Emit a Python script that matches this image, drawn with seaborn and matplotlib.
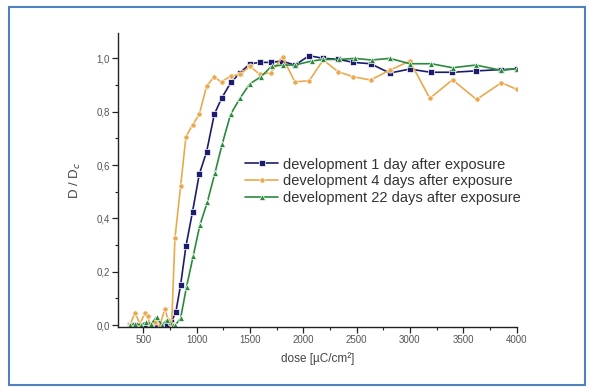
import numpy as np
import pandas as pd
import matplotlib
matplotlib.use("Agg")
import matplotlib.pyplot as plt
import seaborn as sns
from matplotlib.ticker import MultipleLocator, FuncFormatter
from matplotlib.patches import Rectangle

# ---- data ----
labels = ["development 1 day after exposure",
          "development 4 days after exposure",
          "development 22 days after exposure"]

dose_1d = [375, 425, 475, 525, 575, 625, 675, 725, 762, 806, 850, 900, 962, 1025,
           1094, 1166, 1234, 1322, 1406, 1500, 1594, 1694, 1800, 1922, 2056, 2190,
           2328, 2469, 2631, 2812, 3000, 3194, 3397, 3619, 3853, 4000]
val_1d = [0.0, 0.0, 0.0, 0.0, 0.0, 0.0, 0.0, 0.0, 0.01, 0.05, 0.15, 0.295, 0.425, 0.565,
          0.65, 0.79, 0.85, 0.91, 0.945, 0.98, 0.985, 0.985, 0.99, 0.975, 1.01, 1.0,
          0.997, 0.985, 0.98, 0.945, 0.96, 0.948, 0.948, 0.953, 0.958, 0.96]

dose_4d = [375, 422, 470, 516, 540, 563, 609, 656, 703, 734, 766, 797, 850, 900, 962,
           1025, 1094, 1162, 1234, 1319, 1406, 1500, 1594, 1694, 1806, 1922, 2056,
           2187, 2328, 2469, 2631, 2812, 3000, 3187, 3400, 3625, 3859, 4000]
val_4d = [0.0, 0.046, 0.005, 0.046, 0.035, 0.0, 0.012, 0.0, 0.06, 0.02, 0.0, 0.325, 0.52,
          0.706, 0.75, 0.79, 0.896, 0.93, 0.912, 0.934, 0.94, 0.97, 0.94, 0.946, 1.004,
          0.912, 0.916, 0.994, 0.95, 0.931, 0.919, 0.956, 0.99, 0.85, 0.92, 0.846,
          0.909, 0.884]

dose_22d = [375, 425, 475, 525, 575, 625, 675, 725, 775, 800, 850, 906, 969, 1031,
            1100, 1172, 1241, 1319, 1406, 1500, 1600, 1703, 1806, 1922, 2078, 2187,
            2337, 2484, 2641, 2812, 3000, 3200, 3400, 3619, 3859, 4000]
val_22d = [0.0, 0.005, 0.0, 0.01, 0.005, 0.03, 0.0, 0.02, 0.0, 0.0, 0.025, 0.144, 0.26,
           0.375, 0.46, 0.57, 0.68, 0.79, 0.85, 0.905, 0.93, 0.97, 0.975, 0.975, 0.99,
           0.996, 0.996, 1.0, 0.994, 1.0, 0.98, 0.98, 0.965, 0.975, 0.955, 0.962]

x_ticks = [500, 1000, 1500, 2000, 2500, 3000, 3500, 4000]
y_ticks = [0.0, 0.2, 0.4, 0.6, 0.8, 1.0]

df = pd.concat([
    pd.DataFrame({"dose": dose_1d, "val": val_1d, "series": labels[0]}),
    pd.DataFrame({"dose": dose_4d, "val": val_4d, "series": labels[1]}),
    pd.DataFrame({"dose": dose_22d, "val": val_22d, "series": labels[2]}),
], ignore_index=True)

sns.set_style("white")
plt.rcParams["font.family"] = ["Liberation Sans", "DejaVu Sans"]

fig = plt.figure(figsize=(5.93, 3.92), dpi=100)
ax = fig.add_axes([0.1995, 0.1666, 0.6715, 0.7484])

palette = {labels[0]: "#1c1c6e", labels[1]: "#e9a94e", labels[2]: "#2a8a3c"}
sns.lineplot(data=df, x="dose", y="val", hue="series", style="series",
             palette=palette, markers={labels[0]: "s", labels[1]: "o", labels[2]: "^"},
             dashes=False, estimator=None, sort=False, ax=ax,
             linewidth=1.2, markersize=3.8, markeredgewidth=0.5)

ax.set_xlim(266, 4000)
ax.set_ylim(-0.006, 1.094)
ax.set_xticks(x_ticks)
ax.set_yticks(y_ticks)
ax.xaxis.set_minor_locator(MultipleLocator(250))
ax.yaxis.set_minor_locator(MultipleLocator(0.1))
ax.yaxis.set_major_formatter(FuncFormatter(lambda v, p: f"{v:.1f}".replace(".", ",")))
ax.tick_params(axis="both", which="major", direction="out", length=4, width=0.9,
               color="#222222", labelsize=7, labelcolor="#555555", pad=2)
ax.tick_params(axis="both", which="minor", direction="out", length=2.5, width=0.8,
               color="#222222")
ax.tick_params(axis="x", which="both", bottom=True)
ax.tick_params(axis="y", which="both", left=True)

for s in ["top", "right"]:
    ax.spines[s].set_visible(False)
for s in ["left", "bottom"]:
    ax.spines[s].set_color("#222222")
    ax.spines[s].set_linewidth(1.0)

ax.set_xlabel("dose [µC/cm²]", fontsize=8.5, color="#444444", labelpad=5)
ax.set_ylabel("D / D$_c$", fontsize=9.5, color="#444444", labelpad=10)

leg = ax.legend(loc="upper left", bbox_to_anchor=(0.413, 0.598), bbox_transform=fig.transFigure,
                frameon=False, fontsize=10.5, handlelength=2.3, handletextpad=0.3,
                labelspacing=0.18, borderpad=0, borderaxespad=0)
for t in leg.get_texts():
    t.set_color("#333333")

fig.patches.append(Rectangle((9 / 593, 1 - 385 / 392), 576 / 593, 378 / 392,
                             transform=fig.transFigure, fill=False,
                             edgecolor="#4f81bd", linewidth=1.5))

fig.savefig("out.png", dpi=100)
